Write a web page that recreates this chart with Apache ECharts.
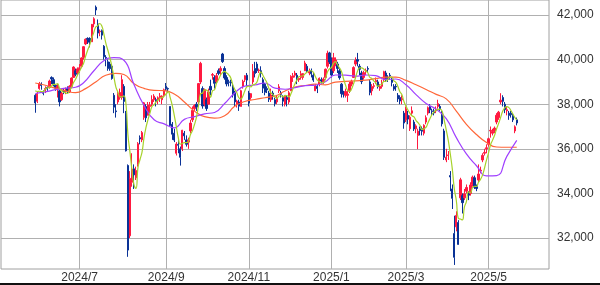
<!DOCTYPE html>
<html><head><meta charset="utf-8">
<script src="https://cdn.jsdelivr.net/npm/echarts@6/dist/echarts.min.js"></script>
<style>html,body{margin:0;padding:0;background:#fff}#c{width:600px;height:285px}</style>
</head><body><div id="c"></div>
<script>
const dates = ['2024-05-30','2024-05-31','2024-06-03','2024-06-04','2024-06-05','2024-06-06','2024-06-07','2024-06-10','2024-06-11','2024-06-12',
'2024-06-13','2024-06-14','2024-06-17','2024-06-18','2024-06-19','2024-06-20','2024-06-21','2024-06-24','2024-06-25','2024-06-26',
'2024-06-27','2024-06-28','2024-07-01','2024-07-02','2024-07-03','2024-07-04','2024-07-05','2024-07-08','2024-07-09','2024-07-10',
'2024-07-11','2024-07-12','2024-07-16','2024-07-17','2024-07-18','2024-07-19','2024-07-22','2024-07-23','2024-07-24','2024-07-25',
'2024-07-26','2024-07-29','2024-07-30','2024-07-31','2024-08-01','2024-08-02','2024-08-05','2024-08-06','2024-08-07','2024-08-08',
'2024-08-09','2024-08-13','2024-08-14','2024-08-15','2024-08-16','2024-08-19','2024-08-20','2024-08-21','2024-08-22','2024-08-23',
'2024-08-26','2024-08-27','2024-08-28','2024-08-29','2024-08-30','2024-09-02','2024-09-03','2024-09-04','2024-09-05','2024-09-06',
'2024-09-09','2024-09-10','2024-09-11','2024-09-12','2024-09-13','2024-09-17','2024-09-18','2024-09-19','2024-09-20','2024-09-24',
'2024-09-25','2024-09-26','2024-09-27','2024-09-30','2024-10-01','2024-10-02','2024-10-03','2024-10-04','2024-10-07','2024-10-08',
'2024-10-09','2024-10-10','2024-10-11','2024-10-15','2024-10-16','2024-10-17','2024-10-18','2024-10-21','2024-10-22','2024-10-23',
'2024-10-24','2024-10-25','2024-10-28','2024-10-29','2024-10-30','2024-10-31','2024-11-01','2024-11-05','2024-11-06','2024-11-07',
'2024-11-08','2024-11-11','2024-11-12','2024-11-13','2024-11-14','2024-11-15','2024-11-18','2024-11-19','2024-11-20','2024-11-21',
'2024-11-22','2024-11-25','2024-11-26','2024-11-27','2024-11-28','2024-11-29','2024-12-02','2024-12-03','2024-12-04','2024-12-05',
'2024-12-06','2024-12-09','2024-12-10','2024-12-11','2024-12-12','2024-12-13','2024-12-16','2024-12-17','2024-12-18','2024-12-19',
'2024-12-20','2024-12-23','2024-12-24','2024-12-25','2024-12-26','2024-12-27','2024-12-30','2025-01-06','2025-01-07','2025-01-08',
'2025-01-09','2025-01-10','2025-01-14','2025-01-15','2025-01-16','2025-01-17','2025-01-20','2025-01-21','2025-01-22','2025-01-23',
'2025-01-24','2025-01-27','2025-01-28','2025-01-29','2025-01-30','2025-01-31','2025-02-03','2025-02-04','2025-02-05','2025-02-06',
'2025-02-07','2025-02-10','2025-02-12','2025-02-13','2025-02-14','2025-02-17','2025-02-18','2025-02-19','2025-02-20','2025-02-21',
'2025-02-25','2025-02-26','2025-02-27','2025-02-28','2025-03-03','2025-03-04','2025-03-05','2025-03-06','2025-03-07','2025-03-10',
'2025-03-11','2025-03-12','2025-03-13','2025-03-14','2025-03-17','2025-03-18','2025-03-19','2025-03-21','2025-03-24','2025-03-25',
'2025-03-26','2025-03-27','2025-03-28','2025-03-31','2025-04-01','2025-04-02','2025-04-03','2025-04-04','2025-04-07','2025-04-08',
'2025-04-09','2025-04-10','2025-04-11','2025-04-14','2025-04-15','2025-04-16','2025-04-17','2025-04-18','2025-04-21','2025-04-22',
'2025-04-23','2025-04-24','2025-04-25','2025-04-28','2025-04-30','2025-05-01','2025-05-02','2025-05-07','2025-05-08','2025-05-09',
'2025-05-12','2025-05-13','2025-05-14','2025-05-15','2025-05-16','2025-05-19','2025-05-20','2025-05-21','2025-05-22','2025-05-23'];

const opens = [38400,38130,38700,38900,38550,38650,38750,38750,39200,39100,
38850,38700,38600,38200,38600,38600,38700,38550,38800,39200,
39500,39400,39600,39700,40100,40700,40950,40950,40800,41600,
42350,41600,41250,41300,40600,40100,39900,39800,39700,38400,
37700,38100,38300,38300,38800,37600,35250,32100,34500,35100,
34700,35300,36500,36400,37400,37900,37500,37900,38000,38200,
38200,38200,38300,38200,38400,38800,38700,37900,37100,36700,
35800,36200,36000,36000,36700,36400,36300,36800,37300,37800,
38000,38100,39000,38700,38000,38200,38000,38800,39300,39200,
39000,39500,39500,40250,39600,39200,39000,39000,38800,38500,
38000,38100,37900,38800,39100,39300,38500,38300,39000,39600,
39800,39500,39500,39100,38900,38700,38500,38200,38500,38200,
38100,38600,38500,38300,38000,38300,38100,38600,39200,39300,
39300,39100,39200,39200,39500,39700,39400,39500,39300,38600,
38800,38900,39100,39000,39200,39700,40300,40000,39500,39900,
39800,39500,38900,38500,38400,38400,38600,38900,39200,39800,
40000,39700,39400,39200,39500,39600,39000,38600,38800,39000,
39000,38700,38800,39100,39400,39200,39300,39100,38800,38800,
38400,38300,38200,37600,37300,37500,36900,37600,37200,36900,
36600,36900,36900,36700,37200,37600,37900,37700,37700,37700,
37900,37900,37600,36800,35500,35700,34800,34200,32200,32500,
32700,33800,33900,33800,34100,34000,34000,34400,34700,34300,
34600,35000,35500,35800,36000,36200,36800,36700,36800,37200,
37400,38100,38300,38000,37700,37600,37600,37500,36800,37300];

const closes = [38054,38487,38923,38837,38490,38703,38683,39038,39134,38876,
38720,38814,38102,38482,38570,38633,38596,38804,39173,39667,
39341,39583,39631,40074,40580,40913,40912,40780,41580,41831,
42224,41190,41275,41097,40126,40063,39599,39594,39154,37869,
37667,38468,38525,39101,38126,35909,31458,34675,35089,34831,
35025,36232,36442,36726,38062,37388,37963,37951,38211,38364,
38110,38288,38371,38362,38647,38700,38686,37047,36657,36391,
36215,36159,35619,36833,36581,36203,36380,37155,37723,37940,
37870,38925,39829,37919,38651,37808,38552,38635,39332,38937,
39277,39380,39605,39910,39180,38911,38981,38954,38411,38104,
38143,37913,38605,39027,39277,39081,38053,38474,39480,39381,
39500,39533,39376,38721,38535,38642,38220,38414,38352,38026,
38283,38780,38442,38134,38349,38208,38513,39248,39276,39395,
39091,39160,39367,39372,39849,39470,39457,39364,39081,38813,
38701,39161,39036,39130,39568,40281,39894,39307,40083,39981,
39605,39190,38474,38444,38572,38451,38902,39027,39646,39958,
39931,39565,39016,39414,39513,39572,38520,38798,38831,39066,
38787,38801,38963,39461,39149,39174,39270,38978,38678,38776,
38237,38142,38256,37155,37785,37331,37418,37704,36887,37028,
36793,36819,36790,37053,37396,37845,37751,37677,37608,37780,
38027,37799,37120,35617,35624,35725,34735,33780,31136,33012,
31714,34609,33585,33982,34267,33920,34377,34730,34279,34220,
34868,35039,35705,35839,36045,36452,36830,36780,36928,37503,
37644,38183,38128,37755,37753,37498,37529,37299,36985,37160];

const lows = [37617,38050,38650,38650,38400,38500,38600,38700,38900,38800,
38600,38300,37900,38150,38450,38450,38500,38500,38750,39200,
39250,39300,39400,39650,40000,40650,40700,40550,40800,41450,
42000,40950,41050,40900,40000,39700,39500,39500,39100,37600,
37400,38000,38200,38200,37600,35880,31156,32000,34300,34200,
34600,35200,36200,36300,37300,37200,37500,37600,37900,38100,
37900,38000,38100,38000,38300,38600,38500,37000,36400,36300,
35700,35800,35247,35900,36400,36100,36000,36700,37200,37700,
37700,38000,38900,37800,37900,37700,38000,38400,39100,38700,
38900,39300,39300,39850,39100,38800,38800,38800,38300,37900,
37850,37700,37900,38700,39000,38800,37900,38200,38900,39200,
39400,39400,39200,38500,38400,38500,38100,38100,38200,37900,
38000,38500,38300,37900,37900,37900,38000,38600,39000,39200,
38900,39000,39100,39100,39500,39400,39300,39200,39000,38600,
38500,38800,38900,38900,39100,39600,39800,39200,39400,39700,
39400,39100,38300,38300,38300,38100,38500,38800,39200,39700,
39700,39300,38900,39100,39300,39400,38400,38400,38700,38900,
38700,38600,38700,39000,39000,39000,39100,38800,38600,38600,
38100,38000,38000,36900,37200,37100,36800,37500,36800,36700,
35987,36600,36600,36600,37100,37500,37600,37500,37500,37600,
37800,37700,37000,35500,35400,35500,34100,33300,30792,32300,
31700,33700,33100,33700,34000,33700,33900,34300,34200,34100,
34500,34900,35400,35700,35800,36100,36500,36600,36700,37100,
37300,38000,37900,37600,37500,37300,37400,37200,36700,37050];

const highs = [38450,38550,39000,38980,38620,38800,38800,39100,39250,39200,
38900,38900,38650,38550,38700,38750,38800,38850,39200,39700,
39600,39650,39800,40100,40600,40950,41000,41000,41600,41900,
42426,41800,41350,41350,40650,40200,40000,39900,39800,38500,
38000,38600,38700,39300,38900,37700,35300,35000,35800,35300,
35200,36300,36600,36800,38100,38000,38100,38100,38400,38450,
38300,38350,38500,38400,38700,38950,38750,37900,37200,36900,
36300,36400,36100,36850,36800,36600,36500,37300,37900,38000,
38100,38950,39900,38800,38700,38300,38700,39100,39400,39300,
39400,39600,39700,40300,39700,39300,39100,39100,38900,38600,
38200,38200,38650,39100,39300,39400,38600,38500,39800,39900,
39900,39600,39700,39200,38950,38800,38600,38700,38600,38300,
38400,38900,38600,38400,38400,38400,38600,39300,39400,39500,
39400,39200,39500,39400,39950,39800,39600,39600,39400,38900,
38900,39200,39200,39200,39600,40400,40350,40100,40300,40100,
39900,39600,38950,38600,38700,38600,39000,39100,39700,40100,
40300,39800,39500,39500,39600,39700,39100,38900,38950,39200,
39100,38900,39100,39500,39500,39300,39400,39200,38900,38900,
38500,38400,38400,37700,37900,37700,37500,37900,37300,37100,
36900,37000,37000,37100,37500,37900,38000,37800,37800,37900,
38200,38000,37700,36900,36000,35900,35000,34400,33000,33200,
32800,34700,34000,34200,34400,34100,34500,34800,34800,34400,
35300,35200,35800,36000,36200,36500,37000,36900,37000,37600,
37700,38494,38400,38100,37900,37700,37700,37600,37050,37400];

const ma5 = [38600,38570,38580,38570,38560,38690,38730,38750,38810,38890,
38890,38920,38730,38600,38540,38520,38480,38620,38750,38970,
39120,39310,39480,39660,39840,40150,40420,40650,40950,41200,
41460,41520,41620,41520,41180,40750,40430,40100,39710,39250,
38780,38550,38340,38330,38380,38030,36630,35860,35050,34390,
34220,35170,35520,35850,36500,36970,37320,37620,37910,37970,
38120,38180,38270,38300,38360,38470,38550,38290,37950,37500,
37000,36500,36210,36240,36280,36280,36320,36630,36810,37080,
37410,37920,38460,38500,38640,38630,38550,38310,38600,38650,
38950,39110,39310,39420,39470,39400,39320,39190,38890,38670,
38520,38300,38230,38360,38590,38780,38810,38780,38870,38890,
38980,39270,39450,39300,39130,38960,38700,38510,38430,38330,
38260,38370,38380,38330,38400,38380,38330,38490,38720,38930,
39110,39240,39260,39280,39370,39440,39500,39500,39440,39240,
39080,39020,38960,38970,39120,39440,39580,39640,39830,39910,
39770,39630,39470,39140,38860,38620,38570,38680,38920,39200,
39490,39630,39630,39580,39490,39420,39210,39160,39050,38960,
38800,38860,38890,39020,39030,39110,39200,39210,39050,38980,
38790,38560,38420,38120,37920,37740,37590,37480,37430,37270,
37170,37050,36860,36900,36970,37180,37370,37550,37660,37730,
37770,37780,37670,37270,36840,36380,35770,35100,34200,33680,
32880,32850,32810,33380,33630,34070,34030,34260,34320,34310,
34500,34630,34820,35140,35500,35820,36180,36390,36610,36900,
37140,37410,37680,37840,37890,37860,37730,37570,37410,37300];

const ma25 = [['2024-05-30',38480],['2024-06-06',38550],['2024-06-13',38650],['2024-06-20',38720],['2024-06-27',38760],
['2024-07-03',38960],['2024-07-10',39490],['2024-07-18',39950],['2024-07-25',40090],['2024-08-01',39970],
['2024-08-08',38880],['2024-08-16',37940],['2024-08-23',37300],['2024-08-30',37120],['2024-09-06',36940],
['2024-09-13',37320],['2024-09-24',37440],['2024-10-01',37570],['2024-10-08',37630],['2024-10-16',38030],
['2024-10-23',38500],['2024-10-30',38810],['2024-11-07',38860],['2024-11-14',38950],['2024-11-21',38720],
['2024-11-28',38670],['2024-12-05',38740],['2024-12-12',38830],['2024-12-19',38850],['2024-12-26',39010],
['2025-01-08',39310],['2025-01-16',39300],['2025-01-23',39260],['2025-01-30',39310],['2025-02-06',39280],
['2025-02-14',39110],['2025-02-21',39130],['2025-03-03',38870],['2025-03-10',38430],['2025-03-17',38030],
['2025-03-25',37770],['2025-04-01',37350],['2025-04-08',36500],['2025-04-15',35770],['2025-04-22',35240],
['2025-04-30',34790],['2025-05-09',34800],['2025-05-16',35650],['2025-05-23',36380]];

const ma50 = [['2024-05-30',38950],['2024-06-06',38850],['2024-06-13',38720],['2024-06-20',38600],['2024-06-27',38520],
['2024-07-04',38700],['2024-07-11',39000],['2024-07-19',39300],['2024-07-26',39380],['2024-08-01',39330],
['2024-08-08',38920],['2024-08-16',38710],['2024-08-23',38620],['2024-08-30',38610],['2024-09-06',38460],
['2024-09-13',38100],['2024-09-24',37690],['2024-10-01',37440],['2024-10-08',37380],['2024-10-16',37480],
['2024-10-23',37910],['2024-10-30',38120],['2024-11-07',38210],['2024-11-14',38290],['2024-11-21',38370],
['2024-11-28',38590],['2024-12-05',38770],['2024-12-12',38840],['2024-12-19',38900],['2024-12-26',38870],
['2025-01-08',38990],['2025-01-16',39020],['2025-01-23',39050],['2025-01-30',39080],['2025-02-06',39150],
['2025-02-14',39210],['2025-02-21',39210],['2025-03-03',39070],['2025-03-10',38870],['2025-03-17',38660],
['2025-03-25',38440],['2025-04-01',38240],['2025-04-08',37690],['2025-04-15',37100],['2025-04-22',36640],
['2025-04-30',36280],['2025-05-09',36080],['2025-05-16',36070],['2025-05-23',36070]];

const yTicks = [32000, 34000, 36000, 38000, 40000, 42000];
const monthTicks = ['2024-07-01','2024-09-02','2024-11-01','2025-01-06','2025-03-03','2025-05-01'];

const LEAD = 17, TRAIL = 16;
const pre = Array.from({length: LEAD}, (_, i) => 'pre' + i);
const post = Array.from({length: TRAIL}, (_, i) => 'post' + i);
const cats = pre.concat(dates, post);
const padL = pre.map(() => '-'), padR = post.map(() => '-');

const candle = padL.concat(dates.map((d, i) => [opens[i], closes[i], lows[i], highs[i]]), padR);
const ma5Data = padL.concat(ma5, padR);
function sparse(pairs) {
  const arr = cats.map(() => '-');
  pairs.forEach(([d, v]) => { arr[cats.indexOf(d)] = v; });
  return arr;
}
const FONT = 'Liberation Sans, Arial, sans-serif';
const isMonth = (i, v) => monthTicks.includes(v);

const chart = echarts.init(document.getElementById('c'), null, {renderer: 'canvas'});
chart.setOption({
  animation: false,
  textStyle: {fontFamily: FONT},
  grid: {left: 1, right: 51, top: 0, bottom: 16, show: true, borderColor: '#a0a0a0', borderWidth: 1, backgroundColor: '#fff'},
  xAxis: {
    type: 'category', data: cats, boundaryGap: false,
    axisLine: {show: false}, axisTick: {show: false},
    axisLabel: {interval: isMonth, margin: 3, color: '#333', fontSize: 12, fontFamily: FONT,
      formatter: v => { const p = v.split('-'); return p[0] + '/' + (+p[1]); }},
    splitLine: {show: true, interval: isMonth, lineStyle: {color: '#b0b0b0', width: 1}}
  },
  yAxis: {type: 'value', min: 30610, max: 42673, show: false, scale: true},
  graphic: [{type: 'rect', shape: {x: 0, y: 283, width: 600, height: 2}, style: {fill: '#111'}, z: 10}],
  series: [
    {
      type: 'line', data: cats.map(() => '-'), z: 1, silent: true,
      markLine: {
        z: 1, silent: true, symbol: ['none', 'none'], animation: false,
        lineStyle: {color: '#b0b0b0', width: 1, type: 'solid'},
        label: {position: 'end', distance: 8, color: '#333', fontSize: 12, fontFamily: FONT,
          formatter: p => p.value.toLocaleString('en-US')},
        emphasis: {disabled: true},
        data: yTicks.map(v => ({yAxis: v}))
      }
    },
    {
      type: 'candlestick', data: candle, z: 2, barWidth: 1.8,
      itemStyle: {color: '#ff1a40', color0: '#0a3296', borderColor: '#ff1a40', borderColor0: '#0a3296', borderWidth: 1}
    },
    {type: 'line', data: sparse(ma50), connectNulls: true, smooth: true, showSymbol: false, z: 3,
      lineStyle: {color: '#ff6638', width: 1.2}},
    {type: 'line', data: sparse(ma25), connectNulls: true, smooth: true, showSymbol: false, z: 4,
      lineStyle: {color: '#a040ff', width: 1.2}},
    {type: 'line', data: ma5Data, smooth: true, showSymbol: false, z: 5,
      lineStyle: {color: '#a6d22a', width: 1.2}}
  ]
});
</script>
</body></html>
